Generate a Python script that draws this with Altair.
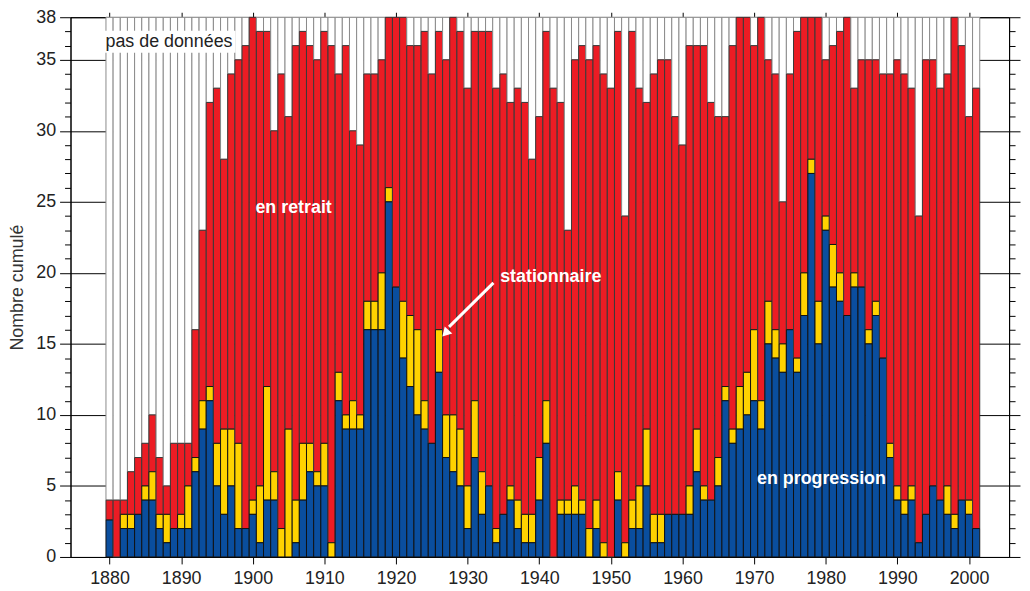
import altair as alt
import pandas as pd

years = list(range(1880, 2002))

# glaciers "en progression" (blue)
blue = [2.6, 0, 2, 2, 3, 4, 4, 2, 1, 2,
        2, 2, 6, 9, 11, 5, 3, 5, 2, 2,
        3, 1, 4, 4, 0, 0, 1, 4, 6, 5,
        5, 0, 11, 9, 9, 9, 16, 16, 16, 25,
        19, 14, 12, 10, 9, 8, 13, 7, 6, 5,
        2, 7, 3, 5, 1, 3, 4, 2, 1, 1,
        4, 8, 0, 3, 3, 3, 3, 0, 2, 0,
        0, 4, 0, 2, 2, 5, 1, 1, 3, 3,
        3, 3, 6, 4, 4, 5, 11, 8, 9, 10,
        11, 9, 15, 14, 13, 16, 13, 17, 27, 15,
        23, 19, 18, 17, 19, 19, 15, 17, 14, 7,
        4, 3, 4, 1, 3, 5, 4, 3, 2, 4,
        3, 2]

# glaciers "stationnaire" (yellow)
yellow = [0, 0, 1, 1, 0, 1, 2, 1, 2, 0,
          1, 3, 1, 2, 1, 3, 6, 4, 6, 0,
          1, 4, 8, 2, 2, 9, 3, 4, 2, 1,
          3, 1, 2, 1, 2, 1, 2, 2, 4, 1,
          0, 4, 5, 6, 2, 0, 3, 3, 4, 4,
          3, 4, 3, 0, 1, 0, 1, 2, 2, 2,
          3, 3, 0, 1, 1, 2, 1, 2, 2, 1,
          0, 2, 1, 2, 3, 4, 2, 2, 0, 0,
          0, 2, 3, 1, 0, 2, 1, 1, 3, 3,
          5, 2, 3, 2, 2, 0, 1, 3, 1, 3,
          1, 3, 2, 0, 1, 0, 1, 1, 0, 1,
          1, 1, 1, 0, 0, 0, 0, 2, 1, 0,
          1, 0]

# number of glaciers with data (top of the red part)
observed = [4, 4, 4, 6, 7, 8, 10, 7, 5, 8,
            8, 8, 16, 23, 32, 33, 28, 34, 35, 36,
            38, 37, 37, 30, 34, 31, 36, 37, 36, 35,
            37, 36, 34, 36, 30, 29, 34, 34, 35, 38,
            38, 38, 36, 36, 37, 34, 37, 35, 38, 37,
            33, 37, 37, 37, 33, 34, 32, 33, 32, 28,
            31, 37, 33, 32, 23, 35, 36, 35, 36, 34,
            33, 37, 24, 37, 33, 32, 34, 35, 35, 31,
            29, 36, 36, 36, 32, 31, 31, 36, 38, 38,
            36, 38, 35, 34, 25, 34, 37, 38, 38, 38,
            35, 36, 37, 38, 33, 35, 35, 35, 34, 34,
            35, 34, 33, 24, 35, 35, 33, 34, 38, 36,
            31, 33]

TOTAL = 38
decades = list(range(1880, 2001, 10))

cats = ["pas de données", "en retrait", "stationnaire", "en progression"]
fills = ["#FFFFFF", "#EC1C24", "#FFD200", "#0A4E9E"]
strokes = ["#8A8A8A", "#3A3A3A", "#111111", "#111111"]

rows = []
for yr, b, yl, t in zip(years, blue, yellow, observed):
    segs = [("pas de données", t, TOTAL), ("en retrait", b + yl, t),
            ("stationnaire", b, b + yl), ("en progression", 0, b)]
    for cat, lo, hi in segs:
        if hi > lo:
            rows.append(dict(year=yr, x0=yr - 0.5, x1=yr + 0.5, cat=cat, y0=lo, y1=hi))
df = pd.DataFrame(rows)

labels = pd.DataFrame({
    "text": ["en retrait", "stationnaire", "en progression"],
    "year": [1905.7, 1941.6, 1979.4],
    "val": [24.6, 19.7, 5.5],
})
nodata_box = pd.DataFrame({"x0": [1879.1], "x1": [1897.6], "y0": [35.5], "y1": [37.05]})
nodata_txt = pd.DataFrame({"text": ["pas de données"], "year": [1888.3], "val": [36.25]})
arrow_line = pd.DataFrame({"year": [1933.6, 1927.4], "val": [19.3, 16.2]})
arrow_head = pd.DataFrame({"year": [1926.9], "val": [15.75]})

FONT = "Liberation Sans"
xscale = alt.Scale(domain=[1874.55, 2005.6], nice=False, zero=False)
yscale = alt.Scale(domain=[0, TOTAL], nice=False, zero=True)

major_test = "datum.value % 5 === 0 || datum.value === 38"
tick_size = {"condition": {"test": major_test, "value": 11}, "value": 6}
grid_op = {"condition": {"test": "datum.value % 5 === 0 && datum.value > 0 && datum.value < 38",
                         "value": 1}, "value": 0}

x_bottom = alt.Axis(values=decades, format="d", title=None, grid=False, tickSize=7,
                    tickColor="black", domainColor="black", labelFontSize=18,
                    labelFont=FONT, labelColor="#222", labelPadding=6)
x_top = alt.Axis(orient="top", values=decades, labels=False, title=None, grid=False,
                 tickSize=5, tickColor="black", domainColor="black")
y_left = alt.Axis(values=list(range(TOTAL + 1)), tickSize=tick_size, tickColor="black",
                  domainColor="black", labelExpr="(datum.value % 5 === 0 || datum.value === 38) ? datum.label : ''",
                  labelFontSize=18, labelFont=FONT, labelColor="#222", labelPadding=4,
                  grid=True, gridColor="black", gridWidth=1, gridOpacity=grid_op,
                  title="Nombre cumulé", titleFont=FONT, titleFontSize=18,
                  titleFontWeight="normal", titleColor="#333", titlePadding=9)
y_right = alt.Axis(orient="right", values=list(range(TOTAL + 1)), tickSize=tick_size,
                   tickColor="black", domainColor="black", labels=False, title=None, grid=False)

bars = alt.Chart(df).mark_rect(strokeWidth=1).encode(
    x=alt.X("x0:Q", scale=xscale, axis=x_bottom),
    x2="x1:Q",
    y=alt.Y("y0:Q", scale=yscale, axis=y_left),
    y2="y1:Q",
    color=alt.Color("cat:N", scale=alt.Scale(domain=cats, range=fills), legend=None),
    stroke=alt.Stroke("cat:N", scale=alt.Scale(domain=cats, range=strokes), legend=None),
)

frame_axes = alt.Chart(df).mark_rect(opacity=0).encode(
    x=alt.X("x0:Q", scale=xscale, axis=x_top),
    x2="x1:Q",
    y=alt.Y("y0:Q", scale=yscale, axis=y_right),
    y2="y1:Q",
)

box = alt.Chart(nodata_box).mark_rect(color="white").encode(
    x=alt.X("x0:Q", scale=xscale, axis=None), x2="x1:Q",
    y=alt.Y("y0:Q", scale=yscale, axis=None), y2="y1:Q",
)
box_text = alt.Chart(nodata_txt).mark_text(font=FONT, fontSize=18, color="#222",
                                           align="center", baseline="middle").encode(
    x=alt.X("year:Q", scale=xscale, axis=None),
    y=alt.Y("val:Q", scale=yscale, axis=None),
    text="text:N",
)
texts = alt.Chart(labels).mark_text(font=FONT, fontSize=18, fontWeight="bold", color="white",
                                    align="center", baseline="middle").encode(
    x=alt.X("year:Q", scale=xscale, axis=None),
    y=alt.Y("val:Q", scale=yscale, axis=None),
    text="text:N",
)
arrow = alt.Chart(arrow_line).mark_line(color="white", strokeWidth=3).encode(
    x=alt.X("year:Q", scale=xscale, axis=None),
    y=alt.Y("val:Q", scale=yscale, axis=None),
)
head = alt.Chart(arrow_head).mark_point(shape="triangle-up", filled=True, color="white",
                                        size=110, angle=223, opacity=1).encode(
    x=alt.X("year:Q", scale=xscale, axis=None),
    y=alt.Y("val:Q", scale=yscale, axis=None),
)

chart = alt.layer(bars, frame_axes, box, box_text, texts, arrow, head).resolve_axis(
    x="independent", y="independent"
).properties(
    width=946, height=544,
    autosize=alt.AutoSizeParams(type="none"),
    padding={"left": 63, "top": 7, "right": 13, "bottom": 32},
    background="white",
).configure_view(stroke="black", strokeWidth=1)

chart.save("out.html", embed_options={"renderer": "svg", "actions": False})
